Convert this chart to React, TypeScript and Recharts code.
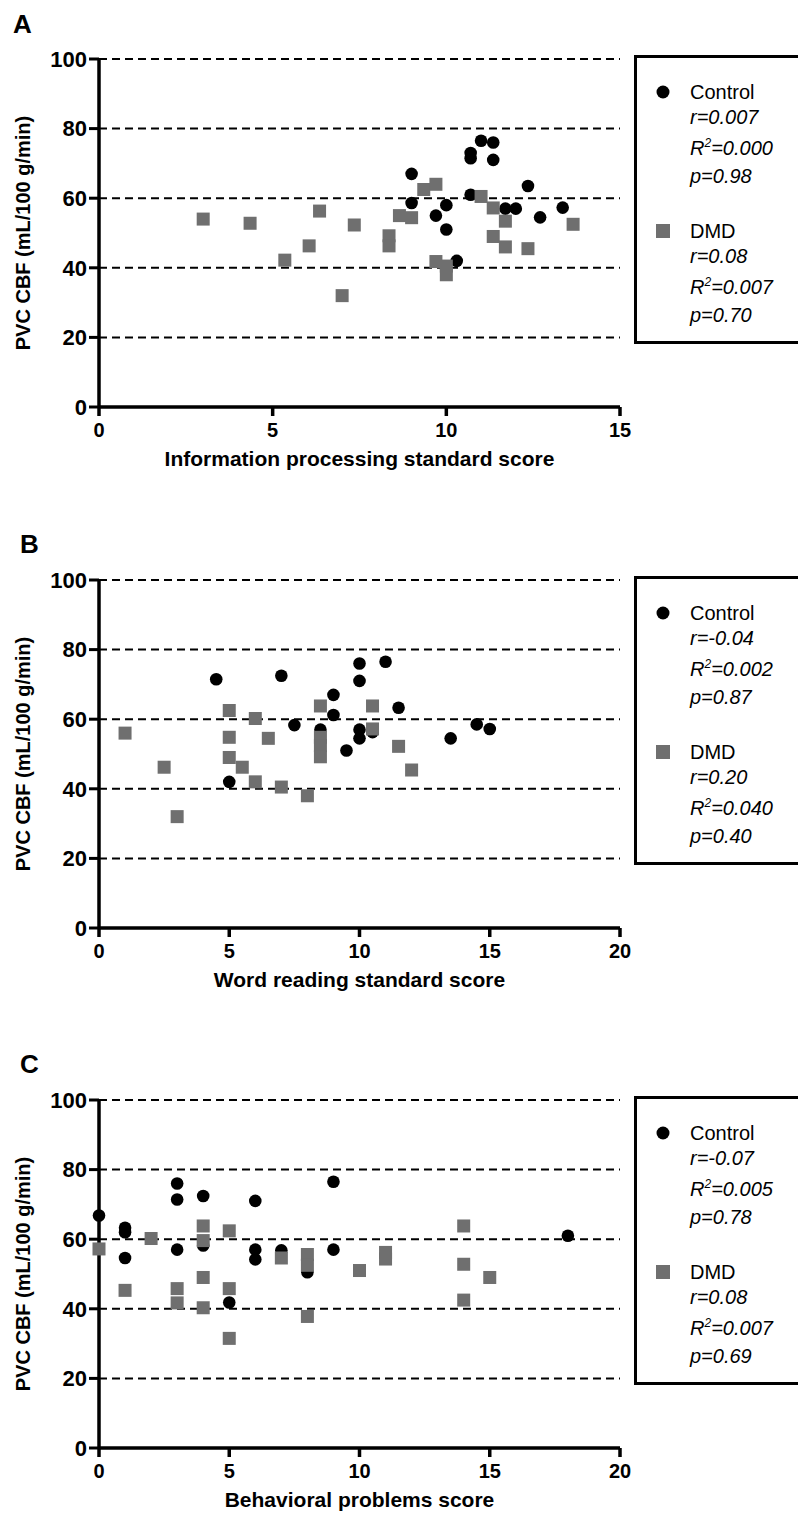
import React from "react";
import { ScatterChart, Scatter, XAxis, YAxis, CartesianGrid } from "recharts";

const FONT = "'Liberation Sans', Arial, Helvetica, sans-serif";

const yTicks = [0, 20, 40, 60, 80, 100];
const xTicks15 = [0, 5, 10, 15];
const xTicks20 = [0, 5, 10, 15, 20];
const seriesNames = ["Control", "DMD"];

// A: information processing
const infoControl = [
	{ x: 9, y: 67 }, { x: 9, y: 58.6 }, { x: 9.7, y: 55 }, { x: 10, y: 58 }, { x: 10, y: 51 },
	{ x: 10.3, y: 42 }, { x: 10.7, y: 73 }, { x: 10.7, y: 71.5 }, { x: 10.7, y: 61 }, { x: 11, y: 76.5 },
	{ x: 11.35, y: 76 }, { x: 11.35, y: 71 }, { x: 11.7, y: 57 }, { x: 12, y: 57 }, { x: 12.35, y: 63.5 },
	{ x: 12.7, y: 54.5 }, { x: 13.35, y: 57.3 },
];
const infoDmd = [
	{ x: 3, y: 54 }, { x: 4.35, y: 52.8 }, { x: 5.35, y: 42.2 }, { x: 6.05, y: 46.3 }, { x: 6.35, y: 56.3 },
	{ x: 7, y: 32 }, { x: 7.35, y: 52.3 }, { x: 8.35, y: 49.2 }, { x: 8.35, y: 46.3 }, { x: 8.65, y: 55 },
	{ x: 9, y: 54.4 }, { x: 9.35, y: 62.5 }, { x: 9.7, y: 64 }, { x: 9.7, y: 41.8 }, { x: 10, y: 40.5 },
	{ x: 10, y: 38 }, { x: 11, y: 60.5 }, { x: 11.35, y: 57.2 }, { x: 11.35, y: 49 }, { x: 11.7, y: 53.4 },
	{ x: 11.7, y: 46 }, { x: 12.35, y: 45.5 }, { x: 13.65, y: 52.5 },
];
const infoStats = [["0.007", "0.000", "0.98"], ["0.08", "0.007", "0.70"]];

// B: word reading
const readControl = [
	{ x: 4.5, y: 71.5 }, { x: 5, y: 42 }, { x: 7, y: 72.5 }, { x: 7.5, y: 58.3 }, { x: 8.5, y: 57 },
	{ x: 9, y: 67 }, { x: 9, y: 61.2 }, { x: 9.5, y: 51 }, { x: 10, y: 76 }, { x: 10, y: 71 },
	{ x: 10, y: 57 }, { x: 10, y: 54.5 }, { x: 10.5, y: 56.3 }, { x: 11, y: 76.5 }, { x: 11.5, y: 63.3 },
	{ x: 13.5, y: 54.5 }, { x: 14.5, y: 58.5 }, { x: 15, y: 57.2 },
];
const readDmd = [
	{ x: 1, y: 56 }, { x: 2.5, y: 46.2 }, { x: 3, y: 32 }, { x: 5, y: 62.5 }, { x: 5, y: 54.8 },
	{ x: 5, y: 49 }, { x: 5.5, y: 46.2 }, { x: 6, y: 60.2 }, { x: 6, y: 42 }, { x: 6.5, y: 54.5 },
	{ x: 7, y: 40.5 }, { x: 8, y: 38 }, { x: 8.5, y: 63.8 }, { x: 8.5, y: 54.8 }, { x: 8.5, y: 52.4 },
	{ x: 8.5, y: 49.2 }, { x: 10.5, y: 63.8 }, { x: 10.5, y: 57.2 }, { x: 11.5, y: 52.2 }, { x: 12, y: 45.4 },
];
const readStats = [["-0.04", "0.002", "0.87"], ["0.20", "0.040", "0.40"]];

// C: behavioral problems
const behavControl = [
	{ x: 0, y: 66.8 }, { x: 1, y: 63.3 }, { x: 1, y: 62 }, { x: 1, y: 54.6 }, { x: 3, y: 76 },
	{ x: 3, y: 71.4 }, { x: 3, y: 57 }, { x: 4, y: 72.4 }, { x: 4, y: 58.2 }, { x: 5, y: 41.8 },
	{ x: 6, y: 71 }, { x: 6, y: 57 }, { x: 6, y: 54.2 }, { x: 7, y: 56.8 }, { x: 8, y: 50.5 },
	{ x: 9, y: 76.5 }, { x: 9, y: 57 }, { x: 18, y: 61 },
];
const behavDmd = [
	{ x: 0, y: 57.2 }, { x: 1, y: 45.3 }, { x: 2, y: 60.2 }, { x: 3, y: 45.8 }, { x: 3, y: 41.7 },
	{ x: 4, y: 63.8 }, { x: 4, y: 59.6 }, { x: 4, y: 49 }, { x: 4, y: 40.3 }, { x: 5, y: 62.4 },
	{ x: 5, y: 45.8 }, { x: 5, y: 31.5 }, { x: 7, y: 54.6 }, { x: 8, y: 55.6 }, { x: 8, y: 52.5 },
	{ x: 8, y: 37.8 }, { x: 10, y: 51 }, { x: 11, y: 56.2 }, { x: 11, y: 54.3 }, { x: 14, y: 63.8 },
	{ x: 14, y: 52.8 }, { x: 14, y: 42.5 }, { x: 15, y: 49 },
];
const behavStats = [["-0.07", "0.005", "0.78"], ["0.08", "0.007", "0.69"]];

const CONTROL_COLOR = "#000000";
const DMD_COLOR = "#6f6f6f";

const DotShape = (props: any) => <circle cx={props.cx} cy={props.cy} r={6.3} fill={CONTROL_COLOR} />;
const SquareShape = (props: any) => (
	<rect x={props.cx - 6.5} y={props.cy - 6.5} width={13} height={13} fill={DMD_COLOR} />
);

const lineStyle = (top: number, italic: boolean): React.CSSProperties => ({
	position: "absolute",
	left: 53,
	top: top - 12,
	height: 24,
	lineHeight: "24px",
	fontSize: 20,
	fontStyle: italic ? "italic" : "normal",
	whiteSpace: "nowrap",
});

const LegendBox = ({ stats, top }: { stats: string[][]; top: number }) => {
	const groups = [0, 139];
	return (
		<div
			style={{
				position: "absolute",
				left: 634,
				top,
				width: 164,
				height: 289,
				boxSizing: "border-box",
				borderTop: "3px solid #000",
				borderLeft: "3px solid #000",
				borderBottom: "3px solid #000",
				fontFamily: FONT,
				color: "#000",
				background: "#fff",
			}}
		>
			{seriesNames.map((name, i) => {
				const g = groups[i] + 34;
				const s = stats[i];
				return (
					<React.Fragment key={name}>
						<svg style={{ position: "absolute", left: 18, top: g - 8 }} width={16} height={16}>
							{i === 0 ? (
								<circle cx={8} cy={8} r={6.5} fill={CONTROL_COLOR} />
							) : (
								<rect x={1} y={1} width={14} height={14} fill={DMD_COLOR} />
							)}
						</svg>
						<div style={lineStyle(g, false)}>{name}</div>
						<div style={lineStyle(g + 25, true)}>r={s[0]}</div>
						<div style={lineStyle(g + 56, true)}>
							R<span style={{ fontSize: 12, position: "relative", top: -8 }}>2</span>={s[1]}
						</div>
						<div style={lineStyle(g + 84, true)}>p={s[2]}</div>
					</React.Fragment>
				);
			})}
		</div>
	);
};

interface PanelProps {
	letter: string;
	top: number;
	plotTop: number;
	xMax: number;
	xTicks: number[];
	xLabel: string;
	control: { x: number; y: number }[];
	dmd: { x: number; y: number }[];
	stats: string[][];
}

const Panel = ({ letter, top, plotTop, xMax, xTicks, xLabel, control, dmd, stats }: PanelProps) => {
	const height = 520;
	const xAxisHeight = 70;
	const plotHeight = 348;
	return (
		<div style={{ position: "absolute", left: 0, top, width: 798, height }}>
			<div
				style={{
					position: "absolute",
					left: letter === "A" ? 13 : 20,
					top: 11,
					fontFamily: FONT,
					fontWeight: "bold",
					fontSize: 26,
					lineHeight: "26px",
					zIndex: 2,
				}}
			>
				{letter}
			</div>
			<ScatterChart
				width={798}
				height={height}
				margin={{ top: plotTop, right: 178, left: 0, bottom: height - plotTop - plotHeight - xAxisHeight }}
			>
				<CartesianGrid vertical={false} stroke="#000" strokeWidth={2} strokeDasharray="8 5" />
				<XAxis
					type="number"
					dataKey="x"
					domain={[0, xMax]}
					ticks={xTicks}
					interval={0}
					height={xAxisHeight}
					axisLine={{ stroke: "#000", strokeWidth: 3.5 }}
					tickLine={{ stroke: "#000", strokeWidth: 3.5 }}
					tickSize={9}
					tickMargin={7}
					tick={{ fill: "#000", fontSize: 20, fontWeight: "bold", fontFamily: FONT }}
					label={{
						content: (p: any) => {
							const vb = p.viewBox || { x: 99, y: plotTop + plotHeight, width: 521 };
							return (
								<text
									x={vb.x + vb.width / 2}
									y={vb.y + 51}
									textAnchor="middle"
									dominantBaseline="central"
									fontFamily={FONT}
									fontWeight="bold"
									fontSize={21}
									fill="#000"
								>
									{xLabel}
								</text>
							);
						},
					}}
				/>
				<YAxis
					type="number"
					dataKey="y"
					domain={[0, 100]}
					ticks={yTicks}
					interval={0}
					width={99}
					axisLine={{ stroke: "#000", strokeWidth: 3.5 }}
					tickLine={{ stroke: "#000", strokeWidth: 3 }}
					tickSize={10}
					tickMargin={2}
					tick={{ fill: "#000", fontSize: 22, fontWeight: "bold", fontFamily: FONT }}
					label={{
						content: () => {
							const cy = plotTop + plotHeight / 2;
							return (
								<text
									x={23}
									y={cy}
									transform={`rotate(-90, 23, ${cy})`}
									textAnchor="middle"
									dominantBaseline="central"
									fontFamily={FONT}
									fontWeight="bold"
									fontSize={20}
									fill="#000"
								>
									PVC CBF (mL/100 g/min)
								</text>
							);
						},
					}}
				/>
				<Scatter name={seriesNames[0]} data={control} fill={CONTROL_COLOR} shape={DotShape} isAnimationActive={false} />
				<Scatter name={seriesNames[1]} data={dmd} fill={DMD_COLOR} shape={SquareShape} isAnimationActive={false} />
			</ScatterChart>
			<LegendBox stats={stats} top={plotTop - 4} />
		</div>
	);
};

export default function App() {
	return (
		<div style={{ position: "absolute", left: 0, top: 0, width: 798, height: 1513, background: "#fff" }}>
			<Panel
				letter="A"
				top={0}
				plotTop={59}
				xMax={15}
				xTicks={xTicks15}
				xLabel="Information processing standard score"
				control={infoControl}
				dmd={infoDmd}
				stats={infoStats}
			/>
			<Panel
				letter="B"
				top={520}
				plotTop={60}
				xMax={20}
				xTicks={xTicks20}
				xLabel="Word reading standard score"
				control={readControl}
				dmd={readDmd}
				stats={readStats}
			/>
			<Panel
				letter="C"
				top={1040}
				plotTop={60}
				xMax={20}
				xTicks={xTicks20}
				xLabel="Behavioral problems score"
				control={behavControl}
				dmd={behavDmd}
				stats={behavStats}
			/>
		</div>
	);
}
